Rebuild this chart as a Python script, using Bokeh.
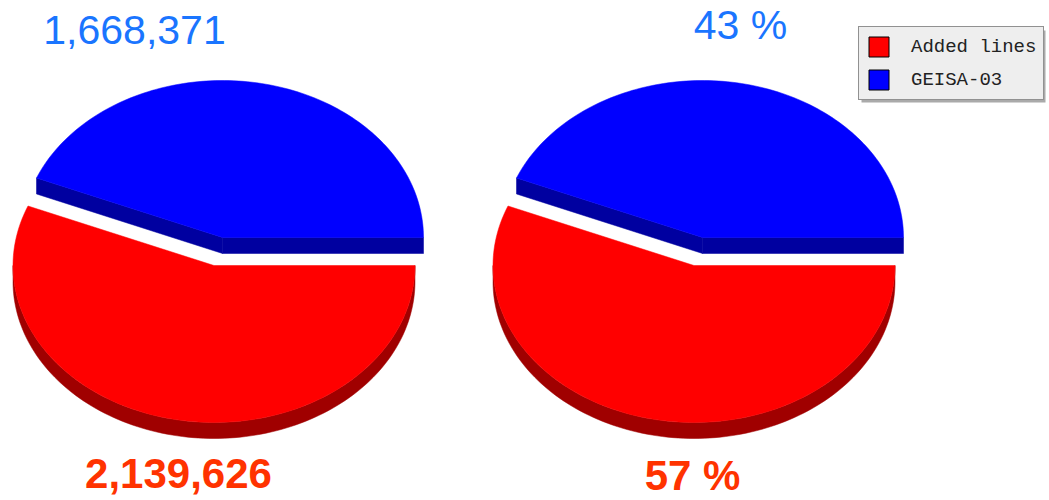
import math
from bokeh.plotting import figure
from bokeh.models import Range1d, Legend, LegendItem
from bokeh.core.properties import value
from bokeh.embed import file_html
from bokeh.resources import INLINE

# ---- data ----
names = ["Added lines", "GEISA-03"]
counts = [2139626, 1668371]
count_labels = ["2,139,626", "1,668,371"]
pct_labels = ["57 %", "43 %"]

# ---- style ----
top_colors = ["#ff0000", "#0000ff"]
side_colors = ["#a00000", "#0000a0"]
text_colors = ["#ff3300", "#1a75ff"]
text_styles = ["bold", "normal"]
text_sizes = ["42px", "41px"]

W, H = 1049, 500
RX, RY, DEPTH = 201, 157, 16
# slice centres (exploded) for left pie; right pie shifted by PIE_DX
centres = [(213.5, 265), (222, 237)]
PIE_DX = 480
label_pos_left = [(178, 473), (134, 29)]
label_pos_right = [(692, 475), (740, 24)]

p = figure(width=W, height=H, x_range=Range1d(0, W), y_range=Range1d(H, 0),
           output_backend="svg", toolbar_location=None, min_border=0,
           x_axis_location=None, y_axis_location=None, outline_line_color=None)
p.grid.visible = False

total = float(sum(counts))
frac_red = counts[0] / total
span_red = 360.0 * frac_red  # clockwise from east


def arc(cx, cy, t0, t1, dy=0, n=120):
    xs, ys = [], []
    for i in range(n + 1):
        t = math.radians(t0 + (t1 - t0) * i / n)
        xs.append(cx + RX * math.cos(t))
        ys.append(cy - RY * math.sin(t) + dy)
    return xs, ys


for off in (0, PIE_DX):
    # --- blue slice (GEISA-03): math angle 0 .. 360-span_red ---
    bcx, bcy = centres[1][0] + off, centres[1][1]
    tb = 360.0 - span_red
    ex = bcx + RX * math.cos(math.radians(tb))
    ey = bcy - RY * math.sin(math.radians(tb))
    side_xs = [[bcx, bcx + RX, bcx + RX, bcx], [bcx, ex, ex, bcx]]
    side_ys = [[bcy, bcy, bcy + DEPTH, bcy + DEPTH], [bcy, ey, ey + DEPTH, bcy + DEPTH]]
    p.patches(side_xs, side_ys, fill_color=side_colors[1], line_color=side_colors[1], line_width=0.5)
    ax, ay = arc(bcx, bcy, 0, tb)
    p.patch([bcx] + ax, [bcy] + ay, fill_color=top_colors[1], line_color=top_colors[1], line_width=0.5)

    # --- red slice (Added lines): math angle 0 .. -span_red ---
    rcx, rcy = centres[0][0] + off, centres[0][1]
    tx, ty = arc(rcx, rcy, 0, -180)
    bx, by = arc(rcx, rcy, -180, 0, dy=DEPTH)
    p.patch(tx + bx, ty + by, fill_color=side_colors[0], line_color=side_colors[0], line_width=0.5)
    ax, ay = arc(rcx, rcy, 0, -span_red)
    p.patch([rcx] + ax, [rcy] + ay, fill_color=top_colors[0], line_color=top_colors[0], line_width=0.5)

# ---- labels ----
for i in range(2):
    for (x, y), txt in ((label_pos_left[i], count_labels[i]), (label_pos_right[i], pct_labels[i])):
        p.text(x=[x], y=[y], text=[txt], text_align="center", text_baseline="alphabetic",
               text_font=value("Liberation Sans"), text_font_size=text_sizes[i],
               text_font_style=text_styles[i], text_color=text_colors[i])

# ---- legend ----
p.quad(left=[861], right=[1045], top=[30], bottom=[102], fill_color="#aaaaaa", line_color=None)
nan = float("nan")
items = []
for i in range(2):
    r = p.quad(left=[nan], right=[nan], top=[nan], bottom=[nan],
               fill_color=top_colors[i], line_color="black", line_width=1)
    items.append(LegendItem(label=names[i], renderers=[r]))
legend = Legend(items=items, location=(858, 400), margin=0, padding=7, spacing=8,
                glyph_width=25, glyph_height=25, label_height=25, label_standoff=20,
                label_text_font="Liberation Mono", label_text_font_size="19px",
                label_text_color="#222222", background_fill_color="#eeeeee", background_fill_alpha=1,
                border_line_color="#333333", border_line_width=1)
p.add_layout(legend)

open("out.html", "w").write(file_html(p, INLINE))
